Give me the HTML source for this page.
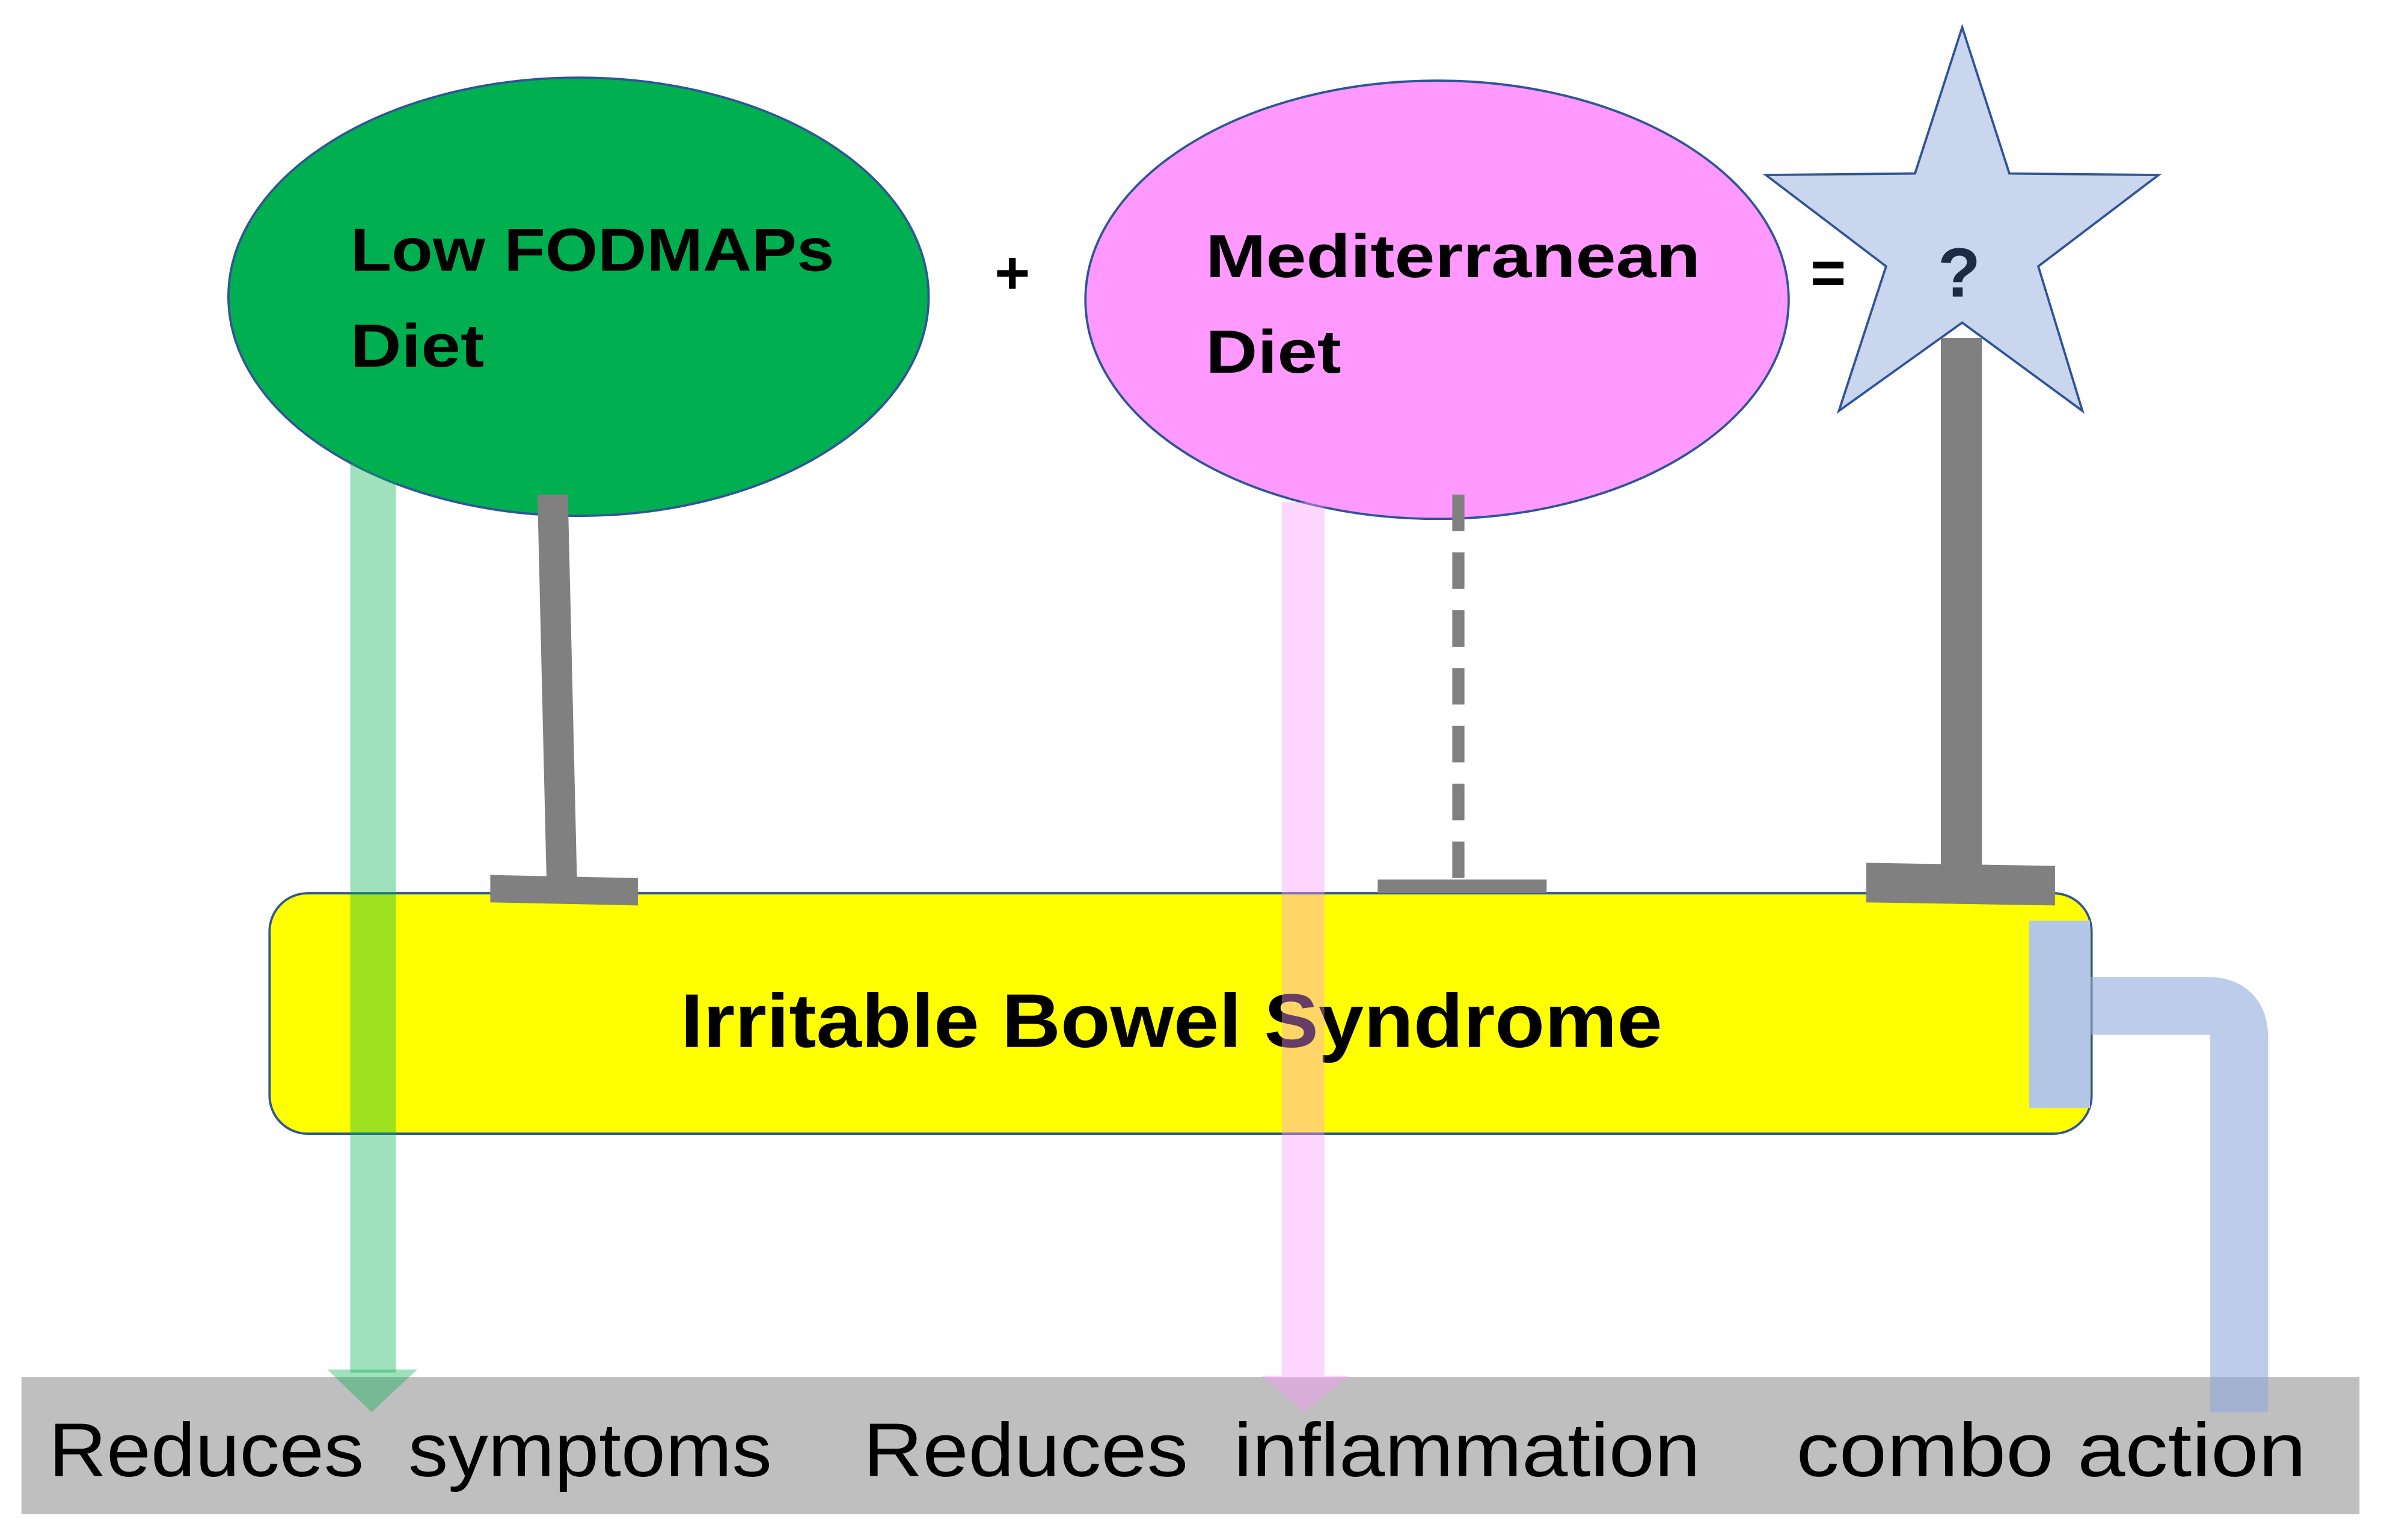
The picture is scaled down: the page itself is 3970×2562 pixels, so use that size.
<!DOCTYPE html>
<html><head><meta charset="utf-8"><style>
html,body{margin:0;padding:0;background:#fff;}
svg{display:block;}
text{font-family:"Liberation Sans","DejaVu Sans",sans-serif;}
</style></head><body>
<svg width="3970" height="2562" viewBox="0 0 1568 1012" xmlns="http://www.w3.org/2000/svg">
<rect width="1568" height="1012" fill="#fff"/>
<ellipse cx="380" cy="195" rx="230" ry="144" fill="#00b050" stroke="#2f5597" stroke-width="1.5"/>
<text x="230" y="178" font-size="40" font-weight="bold" fill="#000" textLength="318" lengthAdjust="spacingAndGlyphs">Low FODMAPs</text>
<text x="230" y="241" font-size="40" font-weight="bold" fill="#000" textLength="88" lengthAdjust="spacingAndGlyphs">Diet</text>
<text x="665" y="193" font-size="40" font-weight="bold" text-anchor="middle">+</text>
<ellipse cx="944" cy="197" rx="231" ry="144" fill="#ff99ff" stroke="#2f5597" stroke-width="1.5"/>
<text x="792" y="182" font-size="40" font-weight="bold" fill="#000" textLength="325" lengthAdjust="spacingAndGlyphs">Mediterranean</text>
<text x="792" y="245" font-size="40" font-weight="bold" fill="#000" textLength="89" lengthAdjust="spacingAndGlyphs">Diet</text>
<text x="1201" y="193" font-size="40" font-weight="bold" text-anchor="middle">=</text>
<polygon points="1289,18 1320,114 1418,115 1339,175 1368,270 1289,212 1208,270 1239,175 1160,115 1258,114" fill="#c9d6ee" stroke="#2f5597" stroke-width="1.5"/>
<text x="1287" y="195" font-size="46" font-weight="bold" fill="#1f2a44" text-anchor="middle">?</text>
<rect x="177" y="587" width="1197" height="158" rx="25" fill="#ffff00" stroke="#2f5597" stroke-width="1.5"/>
<rect x="14" y="905" width="1536" height="90" fill="#bfbfbf"/>
<polygon points="353,325 373,325 379,580 359,580" fill="#808080"/>
<polygon points="322,575 419,577 419,595 322,593" fill="#808080"/>
<line x1="958" y1="325" x2="958" y2="580" stroke="#808080" stroke-width="8" stroke-dasharray="24,14"/>
<rect x="905" y="578" width="111" height="9" fill="#808080"/>
<rect x="1275" y="222" width="27" height="348" fill="#808080"/>
<polygon points="1226,567 1350,569 1350,595 1226,593" fill="#808080"/>
<text x="447" y="688" font-size="50" font-weight="bold" fill="#000" textLength="645" lengthAdjust="spacingAndGlyphs">Irritable Bowel Syndrome</text>
<rect x="230" y="305" width="30" height="597" fill="#00b050" fill-opacity="0.38"/>
<polygon points="215,900 274,900 244,928" fill="#00b050" fill-opacity="0.38"/>
<rect x="842" y="330" width="28" height="574" fill="#ff99ff" fill-opacity="0.4"/>
<polygon points="828,904 886,904 857,928" fill="#ff99ff" fill-opacity="0.4"/>
<rect x="1333" y="605" width="40" height="123" fill="#b4c7e7"/>
<path d="M1373,661 H1450 Q1471,661 1471,682 V928" fill="none" stroke="#8faadc" stroke-opacity="0.6" stroke-width="38"/>
<text x="32" y="970" font-size="50" fill="#000" xml:space="preserve" textLength="475" lengthAdjust="spacingAndGlyphs">Reduces  symptoms</text>
<text x="567" y="970" font-size="50" fill="#000" xml:space="preserve" textLength="550" lengthAdjust="spacingAndGlyphs">Reduces  inflammation</text>
<text x="1180" y="970" font-size="50" fill="#000" textLength="335" lengthAdjust="spacingAndGlyphs">combo action</text>
</svg>
</body></html>
